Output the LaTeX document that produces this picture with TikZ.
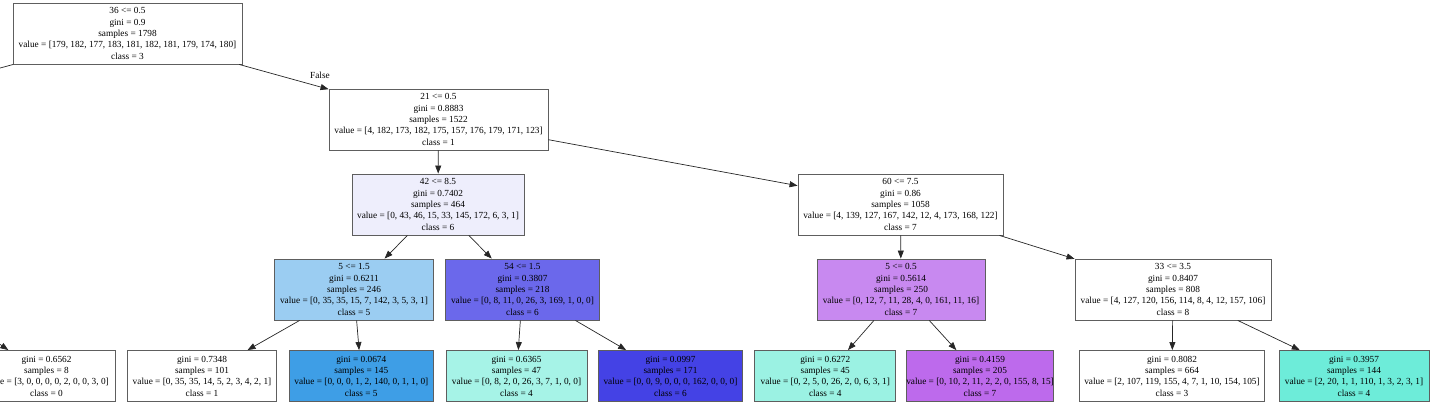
\documentclass[tikz,border=0pt]{standalone}
\usepackage{fontspec}
\setmainfont{Liberation Serif}
\usetikzlibrary{arrows.meta}
\definecolor{boxgray}{HTML}{5E5E5E}
\definecolor{classsix}{HTML}{EEEEFC}
\definecolor{classfivelight}{HTML}{9BCDF2}
\definecolor{classsixmid}{HTML}{6B68EB}
\definecolor{classsevenlight}{HTML}{C889F0}
\definecolor{classfive}{HTML}{3E9EE6}
\definecolor{classfourlight}{HTML}{A6F3E7}
\definecolor{classsixdark}{HTML}{4442E5}
\definecolor{classfourpale}{HTML}{9BF2E3}
\definecolor{classseven}{HTML}{BD6AEC}
\definecolor{classfour}{HTML}{6DECD9}
\tikzset{
	treenode/.style={
			shape=rectangle,
			draw=boxgray,
			line width=0.9pt,
			fill=white,
			align=center,
			font=\fontsize{9.3}{11.3}\selectfont,
			minimum height=61pt,
			inner sep=0pt
		},
	leafnode/.style={
			treenode,
			minimum height=51pt
		},
	splitarrow/.style={
			draw=black!85,
			line width=0.7pt,
			-{Triangle[length=8pt,width=6pt]}
		}
}

\begin{document}
\begin{tikzpicture}[x=1pt, y=-1pt]
  \useasboundingbox (0,0) rectangle (1431,407);

  % split nodes
  \node[treenode, minimum width=229pt] (root) at (127.5,33.5) {36 <= 0.5\\gini = 0.9\\samples = 1798\\value = [179, 182, 177, 183, 181, 182, 181, 179, 174, 180]\\class = 3};
  \node[treenode, minimum width=219pt] (n21) at (438.5,119.5) {21 <= 0.5\\gini = 0.8883\\samples = 1522\\value = [4, 182, 173, 182, 175, 157, 176, 179, 171, 123]\\class = 1};
  \node[treenode, minimum width=172pt, fill=classsix] (n42) at (438,204.5) {42 <= 8.5\\gini = 0.7402\\samples = 464\\value = [0, 43, 46, 15, 33, 145, 172, 6, 3, 1]\\class = 6};
  \node[treenode, minimum width=205pt] (n60) at (900.5,204.5) {60 <= 7.5\\gini = 0.86\\samples = 1058\\value = [4, 139, 127, 167, 142, 12, 4, 173, 168, 122]\\class = 7};
  \node[treenode, minimum width=159pt, fill=classfivelight] (n5a) at (354,289.5) {5 <= 1.5\\gini = 0.6211\\samples = 246\\value = [0, 35, 35, 15, 7, 142, 3, 5, 3, 1]\\class = 5};
  \node[treenode, minimum width=154pt, fill=classsixmid] (n54) at (522.5,289.5) {54 <= 1.5\\gini = 0.3807\\samples = 218\\value = [0, 8, 11, 0, 26, 3, 169, 1, 0, 0]\\class = 6};
  \node[treenode, minimum width=168pt, fill=classsevenlight] (n5b) at (901,289.5) {5 <= 0.5\\gini = 0.5614\\samples = 250\\value = [0, 12, 7, 11, 28, 4, 0, 161, 11, 16]\\class = 7};
  \node[treenode, minimum width=196pt] (n33) at (1173,289.5) {33 <= 3.5\\gini = 0.8407\\samples = 808\\value = [4, 127, 120, 156, 114, 8, 4, 12, 157, 106]\\class = 8};

  % leaves
  \node[leafnode, minimum width=137pt] (leaf0) at (46.5,376) {gini = 0.6562\\samples = 8\\value = [3, 0, 0, 0, 0, 2, 0, 0, 3, 0]\\class = 0};
  \node[leafnode, minimum width=149pt] (leaf1) at (202,376) {gini = 0.7348\\samples = 101\\value = [0, 35, 35, 14, 5, 2, 3, 4, 2, 1]\\class = 1};
  \node[leafnode, minimum width=144pt, fill=classfive] (leaf2) at (361.3,376) {gini = 0.0674\\samples = 145\\value = [0, 0, 0, 1, 2, 140, 0, 1, 1, 0]\\class = 5};
  \node[leafnode, minimum width=141pt, fill=classfourlight] (leaf3) at (516.5,376) {gini = 0.6365\\samples = 47\\value = [0, 8, 2, 0, 26, 3, 7, 1, 0, 0]\\class = 4};
  \node[leafnode, minimum width=144pt, fill=classsixdark] (leaf4) at (670.5,376) {gini = 0.0997\\samples = 171\\value = [0, 0, 9, 0, 0, 0, 162, 0, 0, 0]\\class = 6};
  \node[leafnode, minimum width=141pt, fill=classfourpale] (leaf5) at (825.3,376) {gini = 0.6272\\samples = 45\\value = [0, 2, 5, 0, 26, 2, 0, 6, 3, 1]\\class = 4};
  \node[leafnode, minimum width=145pt, fill=classseven] (leaf6) at (980,376) {gini = 0.4159\\samples = 205\\value = [0, 10, 2, 11, 2, 2, 0, 155, 8, 15]\\class = 7};
  \node[leafnode, minimum width=185pt] (leaf7) at (1172,376) {gini = 0.8082\\samples = 664\\value = [2, 107, 119, 155, 4, 7, 1, 10, 154, 105]\\class = 3};
  \node[leafnode, minimum width=150pt, fill=classfour] (leaf8) at (1354,376) {gini = 0.3957\\samples = 144\\value = [2, 20, 1, 1, 110, 1, 3, 2, 3, 1]\\class = 4};

  \node[font=\fontsize{9.3}{11.3}\selectfont, inner sep=0pt] (lblfalse) at (320,75) {False};

  % branches that leave the picture
  \coordinate (rootleft) at (-190,119.5);
  \coordinate (leafzeroup) at (-80,290);

  \draw[splitarrow] (root) -- (rootleft);
  \draw[splitarrow] (root) -- (n21);
  \draw[splitarrow] (n21) -- (n42);
  \draw[splitarrow] (n21) -- (n60);
  \draw[splitarrow] (n42) -- (n5a);
  \draw[splitarrow] (n42) -- (n54);
  \draw[splitarrow] (n60) -- (n5b);
  \draw[splitarrow] (n60) -- (n33);
  \draw[splitarrow] (leafzeroup) -- (leaf0);
  \draw[splitarrow] (n5a) -- (leaf1);
  \draw[splitarrow] (n5a) -- (leaf2);
  \draw[splitarrow] (n54) -- (leaf3);
  \draw[splitarrow] (n54) -- (leaf4);
  \draw[splitarrow] (n5b) -- (leaf5);
  \draw[splitarrow] (n5b) -- (leaf6);
  \draw[splitarrow] (n33) -- (leaf7);
  \draw[splitarrow] (n33) -- (leaf8);

\end{tikzpicture}
\end{document}
